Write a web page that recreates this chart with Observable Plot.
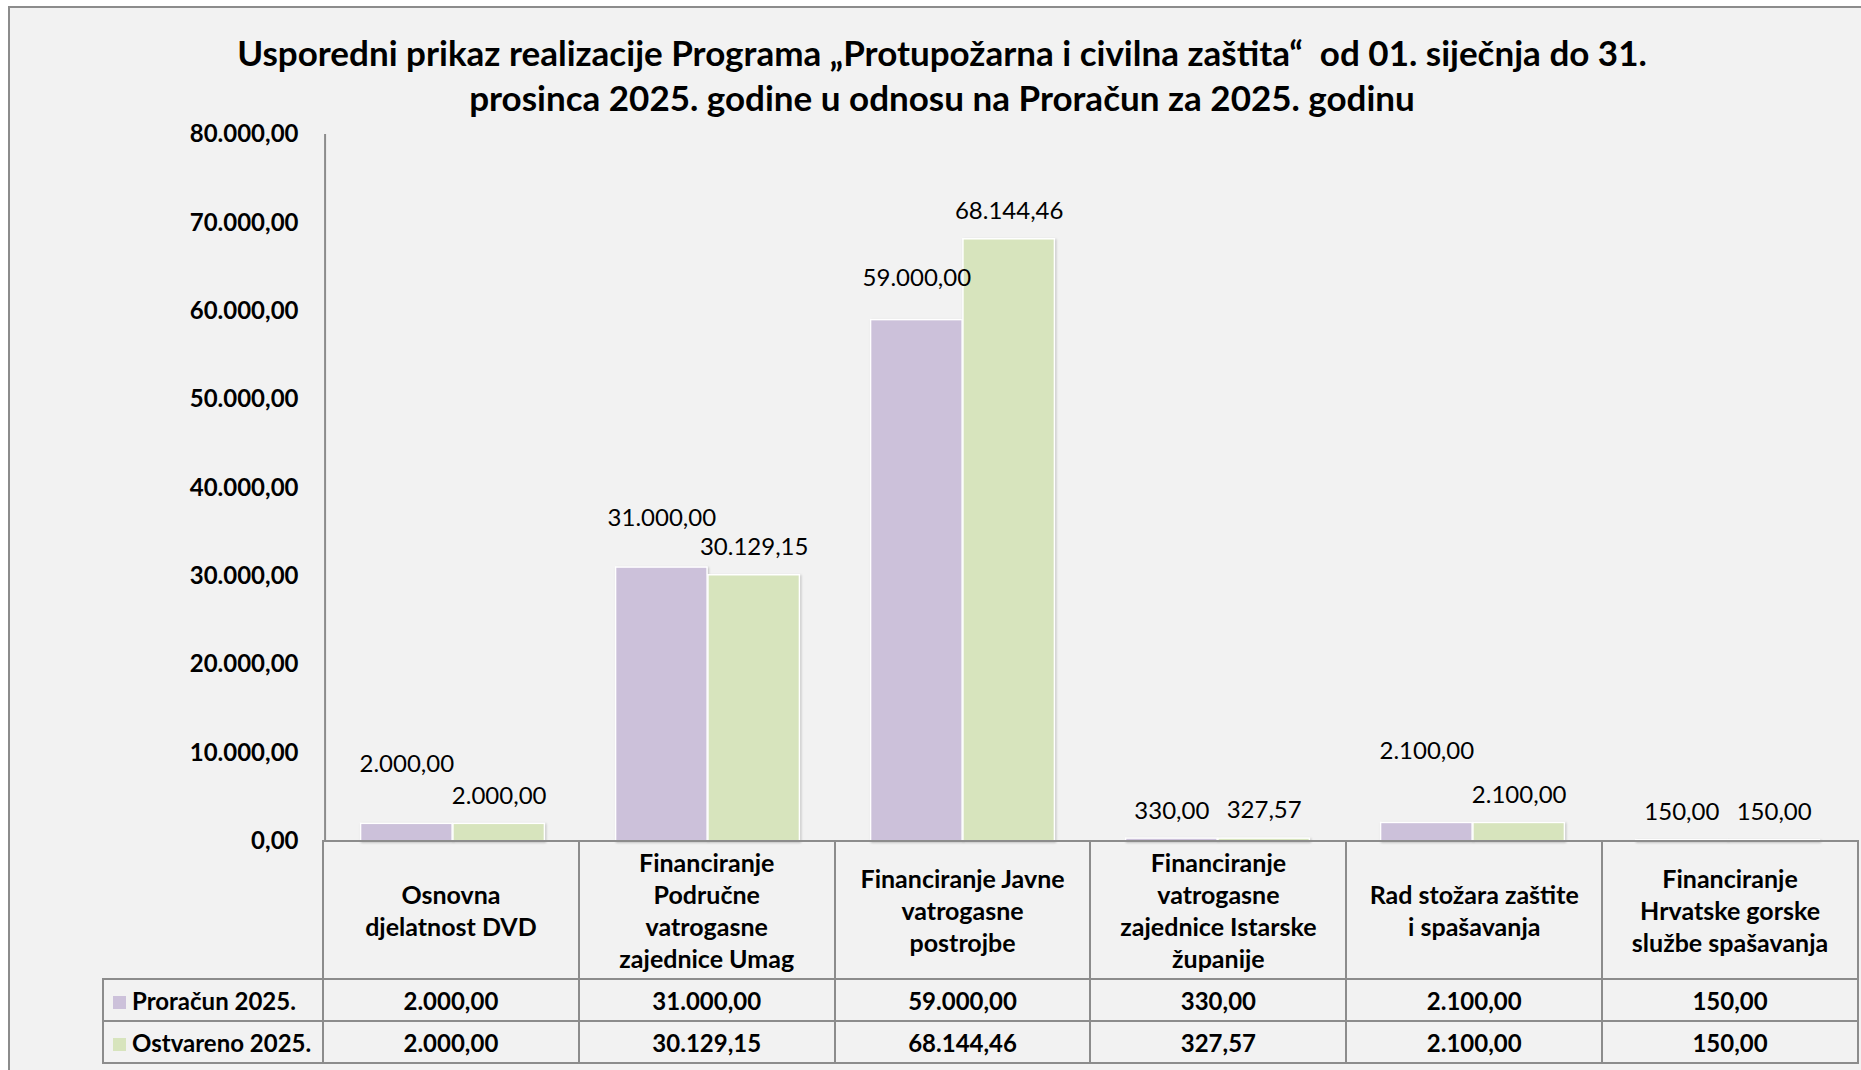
<!DOCTYPE html>
<html>
<head>
<meta charset="utf-8">
<script src="https://cdn.jsdelivr.net/npm/d3@7"></script>
<script src="https://cdn.jsdelivr.net/npm/@observablehq/plot@0.6"></script>
<style>
  html, body { margin: 0; padding: 0; background: #fff; width: 1861px; height: 1070px; overflow: hidden; }
  #frame { position: absolute; left: 8px; top: 6px; width: 1853px; height: 1064px; background: #f2f2f2;
           border-left: 2px solid #8c8c8c; border-top: 2px solid #8c8c8c; box-sizing: border-box; }
  #title { position: absolute; left: 0; width: 1884px; top: 30px; text-align: center;
           font: 700 35px Lato, sans-serif; line-height: 45px; color: #000; }
  #chart { position: absolute; left: 0; top: 110px; }
  #tbl { position: absolute; left: 102px; top: 840px; border-collapse: collapse; table-layout: fixed;
         font: 700 24px Lato, sans-serif; color: #000; }
  #tbl td { border: 2px solid #8c8c8c; text-align: center; vertical-align: middle; padding: 0; }
  #tbl tr.head td { height: 136px; line-height: 32px; white-space: pre-line; font-size: 25px; }
  #tbl tr.val td { height: 40px; }
  #tbl td.blank { border-top: none; border-left: none; border-bottom: 2px solid #8c8c8c; }
  #tbl td.leg { text-align: left; padding-left: 9px; white-space: nowrap; }
  .sw { display: inline-block; width: 13px; height: 13px; margin-right: 6px; vertical-align: 1px; }
</style>
</head>
<body>
<div id="frame"></div>
<div id="title">Usporedni prikaz realizacije Programa „Protupožarna i civilna zaštita“&nbsp; od 01. siječnja do 31.<br>prosinca 2025. godine u odnosu na Proračun za 2025. godinu</div>
<div id="chart"></div>
<table id="tbl"></table>
<script>
// ---- data ----
const categories = [
  "Osnovna\ndjelatnost DVD",
  "Financiranje\nPodručne\nvatrogasne\nzajednice Umag",
  "Financiranje Javne\nvatrogasne\npostrojbe",
  "Financiranje\nvatrogasne\nzajednice Istarske\nžupanije",
  "Rad stožara zaštite\ni spašavanja",
  "Financiranje\nHrvatske gorske\nslužbe spašavanja"
];
const proracun = [2000, 31000, 59000, 330, 2100, 150];
const ostvareno = [2000, 30129.15, 68144.46, 327.57, 2100, 150];
const seriesNames = ["Proračun 2025.", "Ostvareno 2025."];
const yTicks = [0, 10000, 20000, 30000, 40000, 50000, 60000, 70000, 80000];
// label lift above bar top (px) for Proračun labels, as placed in the original
const proracunLabelLift = [60, 49, 42, 27, 72, 28];
const ostvarenoLabelLift = 28;

// ---- style ----
const colors = ["#ccc1da", "#d7e4bd"];
const fmt = d3.formatLocale({decimal: ",", thousands: ".", grouping: [3], currency: ["", ""]}).format(",.2f");

const W = 1861, H = 735, ML = 322, MR = 4, MT = 24, MB = 4;
const bw = (W - ML - MR) / categories.length;
const outer = bw * 0.139, half = bw / 2, shift = (half - outer) / 2;

const rows = categories.map((c, i) => ({cat: c, p: proracun[i], o: ostvareno[i], lift: proracunLabelLift[i]}));

const marks = [
  Plot.axisY({ticks: yTicks, tickFormat: fmt, tickSize: 0, tickPadding: 24, label: null,
              fontWeight: "bold", fontSize: 24, fill: "#000"}),
  Plot.ruleX([categories[0]], {dx: -bw / 2, y1: 0, y2: 80000, stroke: "#8c8c8c", strokeWidth: 2}),
  Plot.barY(rows, {x: "cat", y: "p", fill: colors[0], stroke: "#fff", strokeWidth: 1.5, insetLeft: outer, insetRight: half}),
  Plot.barY(rows, {x: "cat", y: "o", fill: colors[1], stroke: "#fff", strokeWidth: 1.5, insetLeft: half, insetRight: outer}),
  Plot.text(rows, {x: "cat", y: "o", text: d => fmt(d.o), dx: shift, dy: -ostvarenoLabelLift, fontSize: 24, fill: "#000"}),
  ...rows.map(r => Plot.text([r], {x: "cat", y: "p", text: d => fmt(d.p), dx: -shift, dy: -r.lift, fontSize: 24, fill: "#000"}))
];

const plot = Plot.plot({
  width: W, height: H, marginLeft: ML, marginRight: MR, marginTop: MT, marginBottom: MB,
  style: {background: "transparent", fontFamily: "Lato, sans-serif", fontSize: "24px", color: "#000", overflow: "visible"},
  x: {domain: categories, padding: 0, axis: null},
  y: {domain: [0, 80000]},
  marks
});
d3.select(plot).selectAll("g[aria-label='bar']").style("filter", "drop-shadow(1px 1px 1.2px rgba(0,0,0,0.22))");
document.getElementById("chart").appendChild(plot);

// ---- data table under the chart ----
const tbl = d3.select("#tbl").style("width", (W - MR - 102) + "px");
const cg = tbl.append("colgroup");
cg.append("col").style("width", (ML - 102) + "px");
categories.forEach(() => cg.append("col").style("width", bw + "px"));
const head = tbl.append("tr").attr("class", "head");
head.append("td").attr("class", "blank");
categories.forEach(c => head.append("td").text(c));
[proracun, ostvareno].forEach((vals, s) => {
  const tr = tbl.append("tr").attr("class", "val");
  const lg = tr.append("td").attr("class", "leg");
  lg.append("span").attr("class", "sw").style("background", colors[s]);
  lg.append("span").text(seriesNames[s]);
  vals.forEach(v => tr.append("td").text(fmt(v)));
});
</script>
</body>
</html>
